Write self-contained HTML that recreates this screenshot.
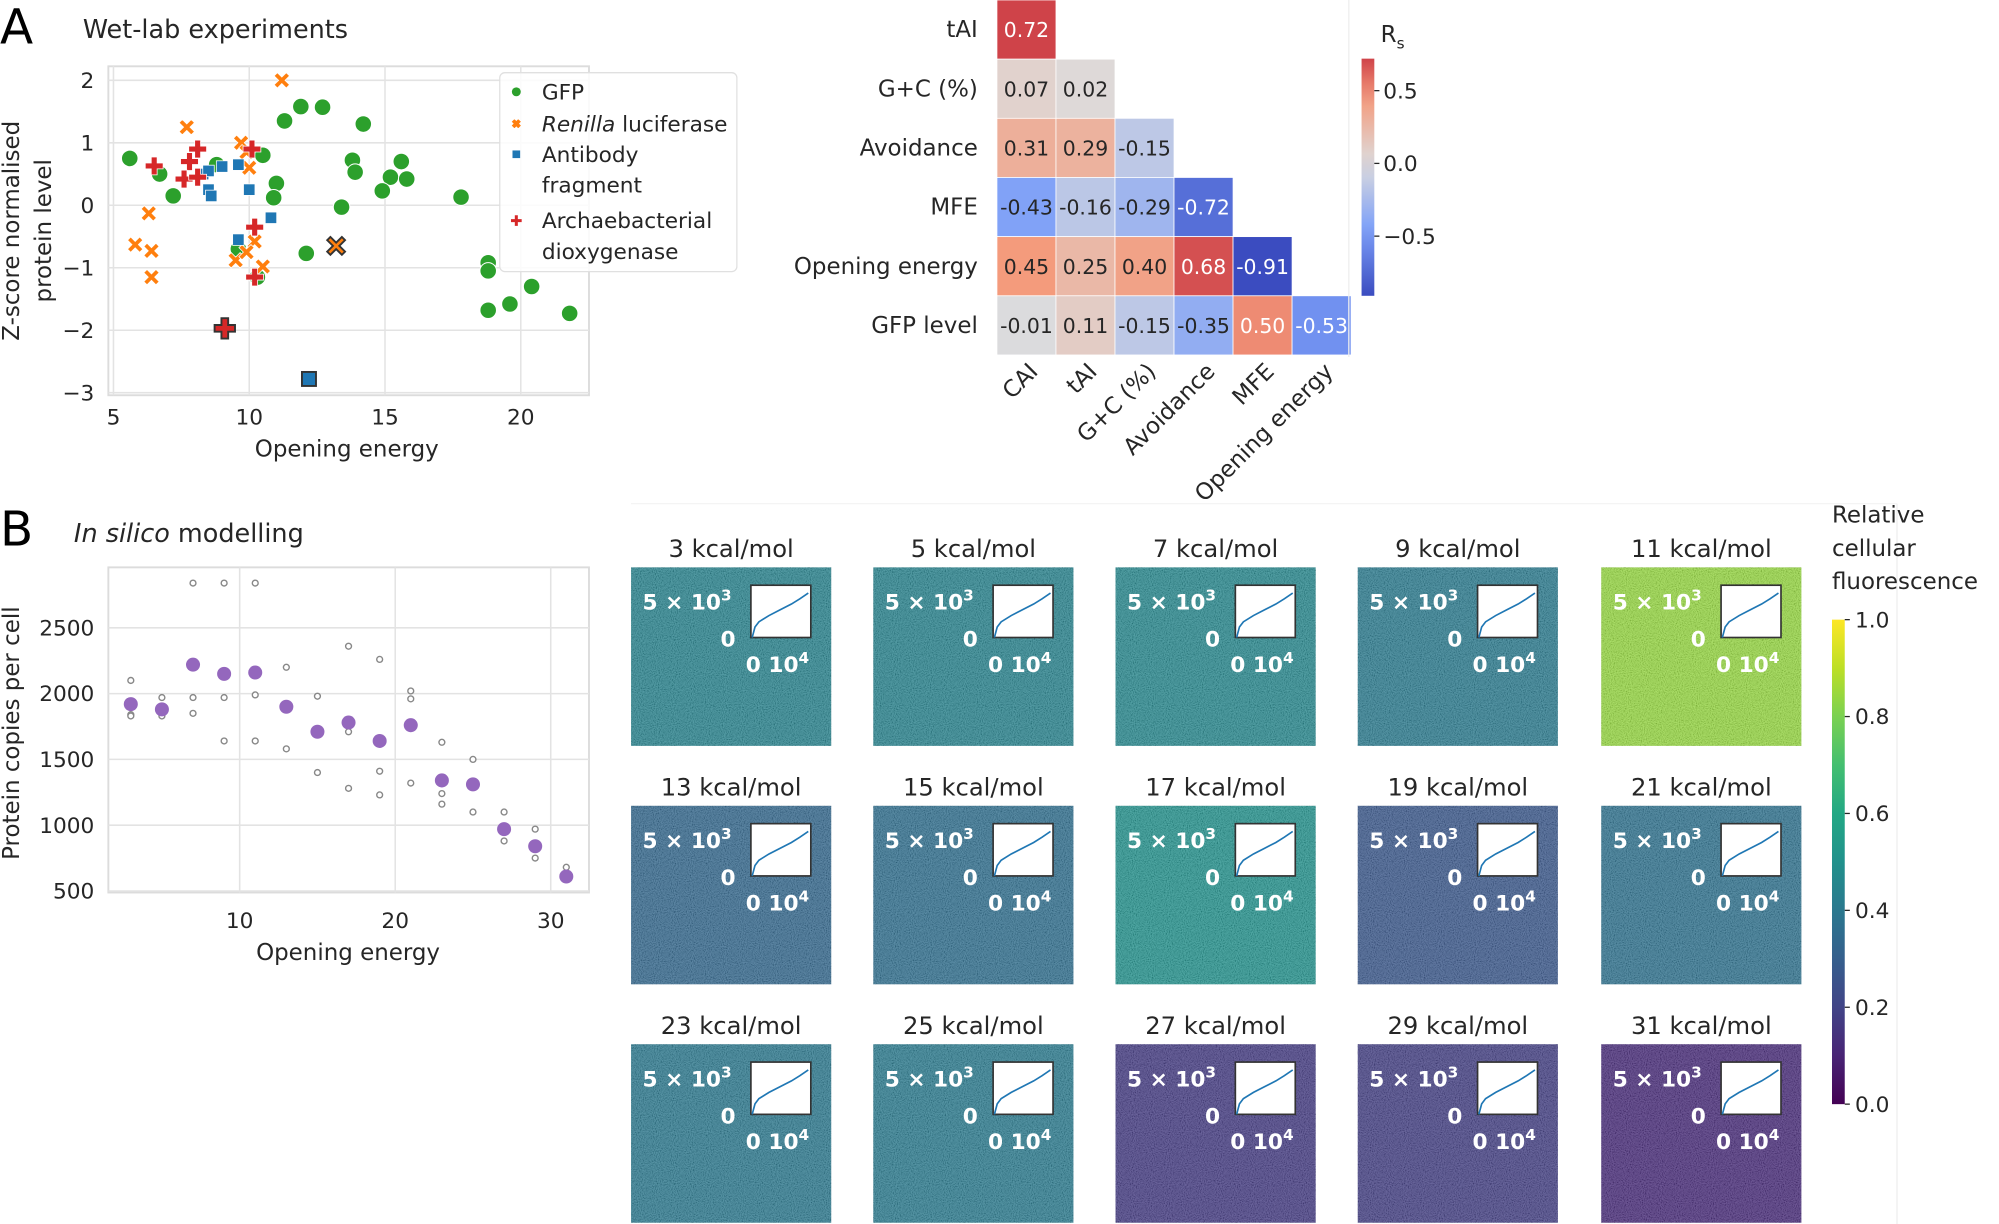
<!DOCTYPE html>
<html><head><meta charset="utf-8">
<style>
html,body{margin:0;padding:0;background:#fff;}
svg{display:block;font-family:"DejaVu Sans","Liberation Sans",sans-serif;}
</style></head>
<body>
<svg id="fig" xmlns="http://www.w3.org/2000/svg" width="1999" height="1224" viewBox="0 0 1568 960" preserveAspectRatio="none">
<defs>
<filter id="noise" x="0" y="0" width="100%" height="100%">
<feTurbulence type="fractalNoise" baseFrequency="1.2" numOctaves="1" seed="3"/>
<feColorMatrix type="matrix" values="2 0 0 0 -0.5  2 0 0 0 -0.5  2 0 0 0 -0.5  0 0 0 0 1"/>
</filter>
<linearGradient id="cwgrad" x1="0" y1="1" x2="0" y2="0"></linearGradient>
<linearGradient id="vgrad" x1="0" y1="1" x2="0" y2="0"></linearGradient>
</defs>
</svg>
<script>
// ---------- Panel A scatter data ----------
const gfpX=[5.6,6.7,7.2,8.8,11.3,11.9,12.7,14.2,10.5,11.0,10.9,13.4,12.1,13.8,13.9,15.6,15.2,15.8,14.9,17.8,18.8,18.8,18.8,19.6,20.4,21.8,9.6,10.3];
const gfpY=[0.75,0.5,0.15,0.65,1.35,1.58,1.57,1.3,0.8,0.35,0.12,-0.03,-0.77,0.72,0.53,0.7,0.45,0.42,0.23,0.13,-0.92,-1.05,-1.68,-1.58,-1.3,-1.73,-0.7,-1.15];
const renX=[11.2,7.7,9.7,9.9,10.0,6.3,5.8,6.4,6.4,10.2,9.5,9.9,10.5];
const renY=[2.0,1.25,1.0,0.85,0.6,-0.13,-0.63,-0.73,-1.15,-0.58,-0.88,-0.75,-0.98];
const abX=[8.3,8.5,9.0,9.6,8.5,8.6,10.0,10.8,9.6];
const abY=[0.5,0.55,0.62,0.65,0.25,0.15,0.25,-0.2,-0.55];
const arX=[6.5,7.8,8.1,7.6,8.1,10.1,10.2,10.2];
const arY=[0.63,0.7,0.9,0.42,0.45,0.9,-0.35,-1.15];
const highlightX=[13.2,12.2,9.1];
const highlightY=[-0.65,-2.78,-1.97];
const aXTicks=[5,10,15,20];
const aYTicks=[2,1,0,-1,-2,-3];
// ---------- Heatmap data ----------
const hmRows=["tAI","G+C (%)","Avoidance","MFE","Opening energy","GFP level"];
const hmCols=["CAI","tAI","G+C (%)","Avoidance","MFE","Opening energy"];
const hmVals=[[0.72],[0.07,0.02],[0.31,0.29,-0.15],[-0.43,-0.16,-0.29,-0.72],[0.45,0.25,0.40,0.68,-0.91],[-0.01,0.11,-0.15,-0.35,0.50,-0.53]];
const cbTicks=[0.5,0.0,-0.5];
const cbTickLabels=["0.5","0.0","\u22120.5"];
// ---------- Panel B scatter data ----------
const bX=[3,5,7,9,11,13,15,17,19,21,23,25,27,29,31];
const bMean=[1920,1880,2220,2150,2160,1900,1710,1780,1640,1760,1340,1310,970,840,610];
const bReps=[[2100,1840,1830],[1970,1830],[2840,1970,1850],[2840,1970,1640],[2840,1990,1640],[2200,1580],[1980,1400],[2360,1710,1280],[2260,1410,1230],[2020,1960,1320],[1630,1240,1160],[1500,1100],[1100,880],[970,750],[680]];
const bXTicks=[10,20,30];
const bYTicks=[2500,2000,1500,1000,500];
// ---------- Small multiples ----------
const smEnergy=[3,5,7,9,11,13,15,17,19,21,23,25,27,29,31];
const smFluor=[0.44,0.44,0.46,0.41,0.84,0.33,0.36,0.50,0.27,0.37,0.40,0.41,0.17,0.18,0.12];
const insetCurveX=[0,0.05,0.12,0.3,0.5,0.7,0.85,1];
const insetCurveY=[0,0.2,0.3,0.42,0.53,0.64,0.74,0.85];
const vTicks=[1.0,0.8,0.6,0.4,0.2,0.0];

const NS="http://www.w3.org/2000/svg";
const svg=document.getElementById('fig');
function mk(tag,attrs,parent){const e=document.createElementNS(NS,tag);for(const k in attrs)e.setAttribute(k,attrs[k]);(parent||svg).appendChild(e);return e;}
function txt(s,attrs,parent){const e=mk('text',attrs,parent);e.textContent=s;return e;}
function lerpStops(stops,t){t=Math.max(0,Math.min(1,t));for(let i=0;i<stops.length-1;i++){const a=stops[i],b=stops[i+1];if(t<=b[0]){const u=(t-a[0])/(b[0]-a[0]);return `rgb(${Math.round(a[1]+(b[1]-a[1])*u)},${Math.round(a[2]+(b[2]-a[2])*u)},${Math.round(a[3]+(b[3]-a[3])*u)})`;}}const l=stops[stops.length-1];return `rgb(${l[1]},${l[2]},${l[3]})`;}
const CW=[[0,59,76,192],[0.25,124,159,249],[0.5,221,220,220],[0.75,244,154,123],[1,180,4,38]];
const VI=[[0,68,1,84],[0.1,72,36,117],[0.2,65,68,135],[0.3,53,95,141],[0.4,42,120,142],[0.5,33,145,140],[0.6,34,168,132],[0.7,68,191,112],[0.8,122,209,81],[0.9,189,223,38],[1,253,231,37]];
const TXT="#262626";

// ================= Panel A =================
let e;
e=txt("A",{x:0,y:34,'font-size':38,fill:"#000"});


e=txt("Wet-lab experiments",{x:65,y:30,'font-size':20,fill:TXT});


const aL=85,aR=462,aT=52,aB=310;
const ax=v=>89+(v-5)*21.3, ay=v=>161-v*49;
const gA=mk('g',{});


mk('rect',{x:aL,y:aT,width:aR-aL,height:aB-aT,fill:"#fff",stroke:"#dcdcdc",'stroke-width':1.5},gA);
aXTicks.forEach(v=>{
  e=mk('line',{x1:ax(v),x2:ax(v),y1:aT,y2:aB,stroke:"#e3e3e3",'stroke-width':1.2},gA);
  
  
  e=txt(String(v),{x:ax(v),y:aB+23,'font-size':17,fill:TXT,'text-anchor':'middle'},gA);
  
  
});
aYTicks.forEach(v=>{
  e=mk('line',{x1:aL,x2:aR,y1:ay(v),y2:ay(v),stroke:"#e3e3e3",'stroke-width':1.2},gA);
  
  
  e=txt(v<0?"\u2212"+(-v):String(v),{x:aL-11,y:ay(v)+6,'font-size':17,fill:TXT,'text-anchor':'end'},gA);
  
  
});
e=txt("Opening energy",{x:272,y:358,'font-size':18,fill:TXT,'text-anchor':'middle'},gA);


e=txt("Z-score normalised",{x:0,y:0,'font-size':18,fill:TXT,'text-anchor':'middle',transform:'translate(15,181) rotate(-90)'},gA);


e=txt("protein level",{x:0,y:0,'font-size':18,fill:TXT,'text-anchor':'middle',transform:'translate(40,181) rotate(-90)'},gA);


function xMark(cx,cy,s,col,parent,stroke){const p=`M${-s},${-s+2.5} L${-s+2.5},${-s} L0,-2.5 L${s-2.5},${-s} L${s},${-s+2.5} L2.5,0 L${s},${s-2.5} L${s-2.5},${s} L0,2.5 L${-s+2.5},${s} L${-s},${s-2.5} L-2.5,0 Z`;return mk('path',{d:p,transform:`translate(${cx},${cy})`,fill:col,stroke:stroke||'#fff','stroke-width':stroke?1.5:0.6},parent);}
function plusMark(cx,cy,s,col,parent,stroke){const w=s*0.33;const p=`M${-w},${-s} H${w} V${-w} H${s} V${w} H${w} V${s} H${-w} V${w} H${-s} V${-w} H${-w} Z`;return mk('path',{d:p,transform:`translate(${cx},${cy})`,fill:col,stroke:stroke||'#fff','stroke-width':stroke?1.5:0.6},parent);}
gfpX.forEach((v,i)=>{e=mk('circle',{cx:ax(v),cy:ay(gfpY[i]),r:6.5,fill:"#2ca02c",stroke:"#fff",'stroke-width':0.8},gA);
  
  });
renX.forEach((v,i)=>{e=xMark(ax(v),ay(renY[i]),6,"#ff7f0e",gA);
  
  });
abX.forEach((v,i)=>{e=mk('rect',{x:ax(v)-4.5,y:ay(abY[i])-4.5,width:9,height:9,fill:"#1f77b4",stroke:"#fff",'stroke-width':0.6},gA);
  
  });
arX.forEach((v,i)=>{e=plusMark(ax(v),ay(arY[i]),7,"#d62728",gA);
  
  });
e=xMark(ax(highlightX[0]),ay(highlightY[0]),7,"#ff7f0e",gA,"#333");


e=mk('rect',{x:ax(highlightX[1])-5.5,y:ay(highlightY[1])-5.5,width:11,height:11,fill:"#1f77b4",stroke:"#333",'stroke-width':1.5},gA);


e=plusMark(ax(highlightX[2]),ay(highlightY[2]),8,"#d62728",gA,"#333");


// legend
const lg=mk('g',{});


mk('rect',{x:392,y:57,width:186,height:156,rx:4,fill:"#fff",'fill-opacity':0.85,stroke:"#e0e0e0"},lg);
e=mk('circle',{cx:405,cy:72,r:3.5,fill:"#2ca02c"},lg);


e=txt("GFP",{x:425,y:78,'font-size':17,fill:TXT},lg);


e=xMark(405,97,4,"#ff7f0e",lg);


e=txt("",{x:425,y:103,'font-size':17,fill:TXT},lg);
e.innerHTML='<tspan font-style="italic">Renilla</tspan> luciferase';


e=mk('rect',{x:402,y:118,width:6,height:6,fill:"#1f77b4"},lg);


e=txt("Antibody",{x:425,y:127,'font-size':17,fill:TXT},lg);


txt("fragment",{x:425,y:151,'font-size':17,fill:TXT},lg);
e=plusMark(405,173,4.5,"#d62728",lg);


e=txt("Archaebacterial",{x:425,y:179,'font-size':17,fill:TXT},lg);


txt("dioxygenase",{x:425,y:203,'font-size':17,fill:TXT},lg);

// ================= Heatmap =================
const hx0=782,hy0=0,cw=46.3,ch=46.4;
const norm=v=>(v+0.91)/1.82;
const gH=mk('g',{});


hmVals.forEach((row,i)=>{
  e=txt(hmRows[i],{x:hx0-15,y:hy0+ch*i+ch/2+6,'font-size':18,fill:TXT,'text-anchor':'end'},gH);
  
  
  row.forEach((v,j)=>{
    e=mk('rect',{x:hx0+cw*j,y:hy0+ch*i,width:cw,height:ch,fill:lerpStops(CW,norm(v)),stroke:"#fff",'stroke-width':0.6},gH);
    
    
    const white=Math.abs(v)>=0.5;
    e=txt((v<0?"-":"")+Math.abs(v).toFixed(2),{x:hx0+cw*j+cw/2,y:hy0+ch*i+ch/2+6,'font-size':16,fill:white?"#fff":TXT,'text-anchor':'middle'},gH);
    
    
  });
});
hmCols.forEach((c,j)=>{
  const cx=hx0+cw*j+cw/2+10, cy=hy0+ch*6+14;
  e=txt(c,{x:0,y:0,'font-size':18,fill:TXT,'text-anchor':'end',transform:`translate(${cx},${cy}) rotate(-45)`},gH);
  
  
});
// coolwarm colorbar
const cwg=document.getElementById('cwgrad');
for(let k=0;k<=10;k++){const v=-0.91+(0.72+0.91)*k/10;mk('stop',{offset:(k*10)+'%','stop-color':lerpStops(CW,norm(v))},cwg);}
const cbT=46,cbB=232,cbY=v=>cbB-(v+0.91)/(0.72+0.91)*(cbB-cbT);
e=mk('rect',{x:1068,y:cbT,width:10,height:cbB-cbT,fill:"url(#cwgrad)"});


cbTicks.forEach((v,i)=>{mk('line',{x1:1078,x2:1082,y1:cbY(v),y2:cbY(v),stroke:TXT});
  e=txt(cbTickLabels[i],{x:1085,y:cbY(v)+6,'font-size':17,fill:TXT});
  
  });
e=txt("",{x:1083,y:33,'font-size':18,fill:TXT});
e.innerHTML='R<tspan font-size="12" dy="5">s</tspan>';


mk('line',{x1:1058,x2:1058,y1:0,y2:280,stroke:"#eee"});

// ================= Panel B =================
e=txt("B",{x:0,y:428,'font-size':38,fill:"#000"});


e=txt("",{x:58,y:425,'font-size':20,fill:TXT});
e.innerHTML='<tspan font-style="italic">In silico</tspan> modelling';


const bL=85,bR=462,bT=445,bB=700;
const bx=v=>188+(v-10)*12.2, by=v=>544-(v-2000)*0.1032;
const gB=mk('g',{});


mk('rect',{x:bL,y:bT,width:bR-bL,height:bB-bT,fill:"#fff",stroke:"#dcdcdc",'stroke-width':1.5},gB);
bXTicks.forEach(v=>{mk('line',{x1:bx(v),x2:bx(v),y1:bT,y2:bB,stroke:"#e3e3e3",'stroke-width':1.2},gB);
  e=txt(String(v),{x:bx(v),y:bB+28,'font-size':17,fill:TXT,'text-anchor':'middle'},gB);
  
  });
bYTicks.forEach(v=>{mk('line',{x1:bL,x2:bR,y1:by(v),y2:by(v),stroke:"#e3e3e3",'stroke-width':1.2},gB);
  e=txt(String(v),{x:bL-11,y:by(v)+6,'font-size':17,fill:TXT,'text-anchor':'end'},gB);
  
  });
e=txt("Opening energy",{x:273,y:753,'font-size':18,fill:TXT,'text-anchor':'middle'},gB);


e=txt("Protein copies per cell",{x:0,y:0,'font-size':18,fill:TXT,'text-anchor':'middle',transform:'translate(15,575) rotate(-90)'},gB);


bReps.forEach((arr,i)=>arr.forEach(v=>{e=mk('circle',{cx:bx(bX[i]),cy:by(v),r:2.3,fill:"#fff",stroke:"#888",'stroke-width':1.1},gB);
  
  }));
bMean.forEach((v,i)=>{e=mk('circle',{cx:bx(bX[i]),cy:by(v),r:5.5,fill:"#9467bd"},gB);
  
  });

// ================= Small multiples =================
const colX=[495,685,875,1065,1256], rowY=[445,632,819], pw=157, ph=140;
mk('line',{x1:1488,x2:1488,y1:395,y2:960,stroke:"#eee"});
mk('line',{x1:495,x2:1488,y1:395,y2:395,stroke:"#f4f4f4"});
smEnergy.forEach((en,i)=>{
  const r=Math.floor(i/5),c=i%5,x0=colX[c],y0=rowY[r];
  const g=mk('g',{});
  
  
  e=txt(en+" kcal/mol",{x:x0+pw/2,y:y0-8,'font-size':19,fill:TXT,'text-anchor':'middle'},g);
  
  
  e=mk('rect',{x:x0,y:y0,width:pw,height:ph,fill:lerpStops(VI,smFluor[i])},g);
  
  
  mk('rect',{x:x0,y:y0,width:pw,height:ph,filter:"url(#noise)",opacity:0.22},g);
  const ix=x0+94,iy=y0+14,iw=47,ih=41;
  e=mk('rect',{x:ix,y:iy,width:iw,height:ih,fill:"#fff",stroke:"#333",'stroke-width':1.3},g);
  
  
  const pts=insetCurveX.map((v,k)=>`${ix+1+v*(iw-3)},${iy+ih-insetCurveY[k]*ih}`).join(' ');
  e=mk('polyline',{points:pts,fill:"none",stroke:"#1f77b4",'stroke-width':1.3},g);
  
  
  e=txt("",{x:x0+9,y:y0+33,'font-size':17,'font-weight':'bold',fill:"#fff"},g);
  e.innerHTML='5 × 10<tspan font-size="12" dy="-7">3</tspan>';
  
  
  e=txt("0",{x:x0+82,y:y0+62,'font-size':17,'font-weight':'bold',fill:"#fff",'text-anchor':'end'},g);
  
  
  e=txt("",{x:x0+90,y:y0+82,'font-size':17,'font-weight':'bold',fill:"#fff"},g);
  e.innerHTML='0 10<tspan font-size="12" dy="-7">4</tspan>';
  
  
});
// viridis colorbar
const vg=document.getElementById('vgrad');
for(let k=0;k<=10;k++){mk('stop',{offset:(k*10)+'%','stop-color':lerpStops(VI,k/10)},vg);}
const vT=486,vB=866,vy=v=>vB-v*(vB-vT);
e=mk('rect',{x:1437,y:vT,width:10,height:vB-vT,fill:"url(#vgrad)"});


vTicks.forEach(v=>{mk('line',{x1:1447,x2:1451,y1:vy(v),y2:vy(v),stroke:TXT});
  e=txt(v.toFixed(1),{x:1455,y:vy(v)+6,'font-size':17,fill:TXT});
  
  });
["Relative","cellular","fluorescence"].forEach((s,k)=>{e=txt(s,{x:1437,y:410+k*26,'font-size':18,fill:TXT});
  
  });
</script>
</body></html>
